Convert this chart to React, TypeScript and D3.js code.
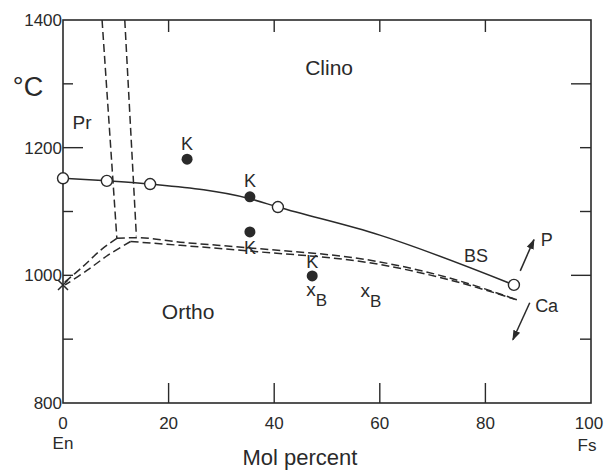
import { useMemo } from "react";
import * as d3 from "d3";

// mol percent Fs vs temperature (°C)
const solidLine: [number, number][] = [[0, 1152], [8.3, 1148], [16.5, 1143], [35.4, 1120], [40.7, 1107], [60, 1063], [85.4, 985]];
const openCircles: [number, number][] = [[0, 1152], [8.3, 1148], [16.5, 1143], [40.7, 1107], [85.4, 985]];
const filledDots: [number, number][] = [[23.5, 1182], [35.4, 1123], [35.4, 1068], [47.2, 999]];

const leftVert: [number, number][] = [[7.4, 1400], [10.2, 1058]];
const rightVert: [number, number][] = [[11.7, 1400], [13.9, 1061]];
const upperH: [number, number][] = [[10.2, 1058], [14, 1059], [22.2, 1052], [35.4, 1043], [60, 1021], [72.7, 997], [86.2, 961]];
const lowerH: [number, number][] = [[12.8, 1053], [22.2, 1047], [35.4, 1038], [60, 1017], [72.7, 994], [86.2, 961]];
const upperDiag: [number, number][] = [[10.2, 1058], [7.2, 1040], [3.8, 1014], [0, 987]];
const lowerDiag: [number, number][] = [[12.8, 1053], [8.6, 1032], [4.6, 1008], [0.4, 985]];
const invariantX: [number, number] = [0, 985];

const xTicks = [0, 20, 40, 60, 80, 100];
const yTicks = [800, 1000, 1200, 1400];
const leftMinor = [900, 1000, 1100, 1300];
const leftMajor = [1200];
const rightMinor = [900, 1100, 1200];
const rightMajor = [1000, 1300];
const innerX = [20, 40, 60, 80];

const K_labels: { x: number; y: number; dy: number }[] = [
  { x: 23.5, y: 1182, dy: -16 },
  { x: 35.4, y: 1123, dy: -16 },
  { x: 35.4, y: 1068, dy: 16 },
  { x: 47.2, y: 999, dy: -14 },
];
const xB_labels: [number, number][] = [[47.2, 979], [57.5, 976]];

const region_labels = [
  { t: "Clino", x: 50.4, y: 1326, size: 21 },
  { t: "Pr", x: 3.6, y: 1240, size: 19 },
  { t: "Ortho", x: 23.7, y: 944, size: 21 },
  { t: "BS", x: 78.2, y: 1031, size: 18 },
  { t: "P", x: 91.6, y: 1056, size: 18 },
  { t: "Ca", x: 91.6, y: 952, size: 18 },
];
const arrowP: [number, number][] = [[86.6, 1007], [89.2, 1056]];
const arrowCa: [number, number][] = [[88.4, 957], [85.2, 899]];

const FONT = "'Liberation Sans', Arial, sans-serif";
const INK = "#2a2a2a";

export default function App() {
  const width = 604;
  const height = 470;
  const x = d3.scaleLinear().domain([0, 100]).range([63, 591]);
  const y = d3.scaleLinear().domain([800, 1400]).range([403, 20]);

  const smooth = useMemo(
    () => d3.line<[number, number]>().x((d) => x(d[0])).y((d) => y(d[1])).curve(d3.curveMonotoneX),
    []
  );
  const straight = d3.line<[number, number]>().x((d) => x(d[0])).y((d) => y(d[1]));
  const curved = d3.line<[number, number]>().x((d) => x(d[0])).y((d) => y(d[1])).curve(d3.curveCatmullRom);

  const dash = "8,4";

  return (
    <svg width={width} height={height} style={{ display: "block", position: "absolute", left: 0, top: 0 }}>
      <defs>
        <marker id="ah" viewBox="0 0 10 10" refX="9" refY="5" markerWidth="7" markerHeight="7" orient="auto">
          <path d="M0,1.5 L10,5 L0,8.5 z" fill={INK} />
        </marker>
      </defs>
      <rect x={x(0)} y={y(1400)} width={x(100) - x(0)} height={y(800) - y(1400)} fill="none" stroke={INK} strokeWidth={1.6} />

      {/* ticks */}
      {leftMinor.map((v) => <line key={"lm" + v} x1={x(0)} x2={x(0) + 10} y1={y(v)} y2={y(v)} stroke={INK} strokeWidth={1.4} />)}
      {leftMajor.map((v) => <line key={"lM" + v} x1={x(0)} x2={x(0) + 20} y1={y(v)} y2={y(v)} stroke={INK} strokeWidth={1.4} />)}
      {rightMinor.map((v) => <line key={"rm" + v} x1={x(100)} x2={x(100) - 11} y1={y(v)} y2={y(v)} stroke={INK} strokeWidth={1.4} />)}
      {rightMajor.map((v) => <line key={"rM" + v} x1={x(100)} x2={x(100) - 20} y1={y(v)} y2={y(v)} stroke={INK} strokeWidth={1.4} />)}
      {innerX.map((v) => <line key={"b" + v} x1={x(v)} x2={x(v)} y1={y(800)} y2={y(800) - 20} stroke={INK} strokeWidth={1.4} />)}
      {innerX.map((v) => <line key={"t" + v} x1={x(v)} x2={x(v)} y1={y(1400)} y2={y(1400) + 12} stroke={INK} strokeWidth={1.4} />)}

      {/* tick labels */}
      <g fontFamily={FONT} fontSize={17} fill={INK}>
        {yTicks.map((v) => (
          <text key={"yl" + v} x={x(0) - 1} y={y(v)} dy="0.36em" textAnchor="end">{v}</text>
        ))}
        {xTicks.map((v) => (
          <text key={"xl" + v} x={v === 100 ? x(v) - 2 : x(v)} y={y(800) + 20} dy="0.36em" textAnchor="middle">{v}</text>
        ))}
        <text x={x(0)} y={y(800) + 40} dy="0.36em" textAnchor="middle">En</text>
        <text x={x(100) - 4} y={y(800) + 42} dy="0.36em" textAnchor="middle">Fs</text>
      </g>
      <text x={300} y={457} dy="0.36em" textAnchor="middle" fontFamily={FONT} fontSize={22} fill={INK}>Mol percent</text>
      <text x={28} y={86} dy="0.36em" textAnchor="middle" fontFamily={FONT} fontSize={27} fill={INK}>°C</text>

      {/* dashed phase boundaries */}
      <g fill="none" stroke={INK} strokeWidth={1.5} strokeDasharray={dash}>
        <path d={straight(leftVert) ?? ""} />
        <path d={straight(rightVert) ?? ""} />
        <path d={smooth(upperH) ?? ""} />
        <path d={smooth(lowerH) ?? ""} />
        <path d={curved(upperDiag) ?? ""} />
        <path d={curved(lowerDiag) ?? ""} />
      </g>

      {/* solid boundary */}
      <path d={smooth(solidLine) ?? ""} fill="none" stroke={INK} strokeWidth={1.5} />
      {openCircles.map((d, i) => (
        <circle key={"oc" + i} cx={x(d[0])} cy={y(d[1])} r={5.5} fill="#fff" stroke={INK} strokeWidth={1.4} />
      ))}
      {filledDots.map((d, i) => (
        <circle key={"fd" + i} cx={x(d[0])} cy={y(d[1])} r={5.5} fill={INK} />
      ))}

      {/* invariant point */}
      <path
        d={`M${x(invariantX[0]) - 5},${y(invariantX[1]) - 5}L${x(invariantX[0]) + 5},${y(invariantX[1]) + 5}M${x(invariantX[0]) + 5},${y(invariantX[1]) - 5}L${x(invariantX[0]) - 5},${y(invariantX[1]) + 5}`}
        stroke={INK}
        strokeWidth={1.5}
      />

      {/* arrows */}
      <path d={straight(arrowP) ?? ""} stroke={INK} strokeWidth={1.5} markerEnd="url(#ah)" />
      <path d={straight(arrowCa) ?? ""} stroke={INK} strokeWidth={1.5} markerEnd="url(#ah)" />

      <g fontFamily={FONT} fill={INK}>
        {K_labels.map((k, i) => (
          <text key={"k" + i} x={x(k.x)} y={y(k.y) + k.dy} dy="0.36em" textAnchor="middle" fontSize={18}>K</text>
        ))}
        {xB_labels.map((d, i) => (
          <text key={"xb" + i} x={x(d[0]) - 6} y={y(d[1])} dy="0.36em" fontSize={19}>
            x<tspan fontSize={17} dy={10}>B</tspan>
          </text>
        ))}
        {region_labels.map((r) => (
          <text key={r.t} x={x(r.x)} y={y(r.y)} dy="0.36em" textAnchor="middle" fontSize={r.size}>{r.t}</text>
        ))}
      </g>
    </svg>
  );
}
